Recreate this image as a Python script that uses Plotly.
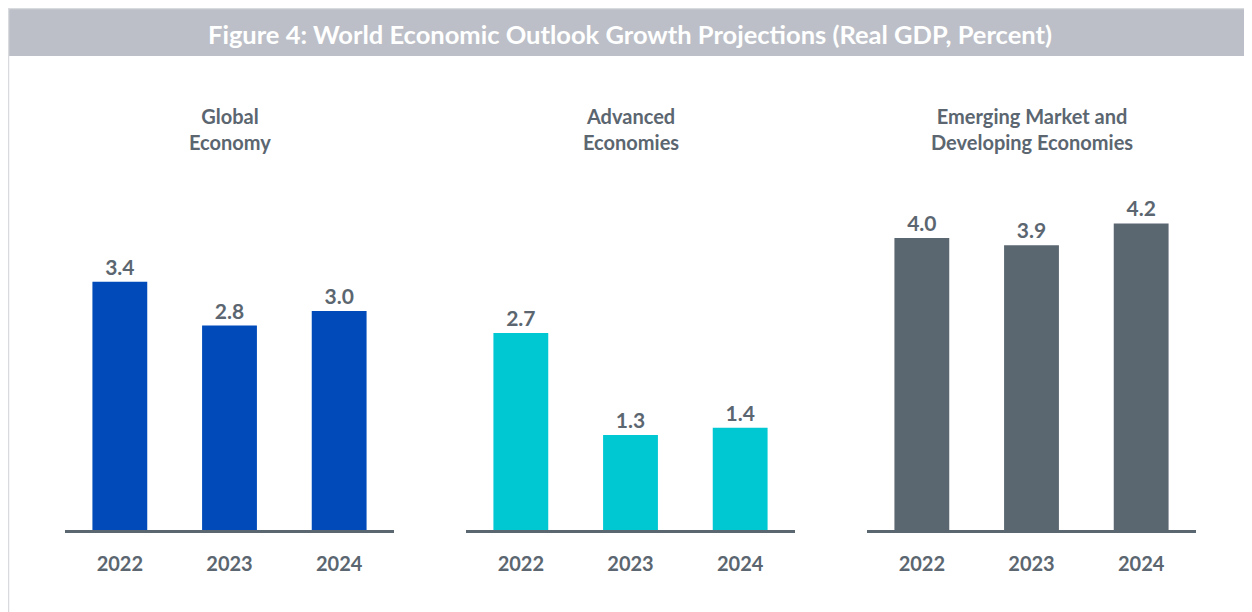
import plotly.graph_objects as go

# data
years = ["2022", "2023", "2024"]
global_economy = [3.4, 2.8, 3.0]
advanced = [2.7, 1.3, 1.4]
emerging = [4.0, 3.9, 4.2]
panel_titles = ["Global<br>Economy", "Advanced<br>Economies",
                "Emerging Market and<br>Developing Economies"]
title_text = "Figure 4: World Economic Outlook Growth Projections (Real GDP, Percent)"

W, H = 1252, 612
OFF = 8  # page body margin pushes the figure 8px right/down
FONT = "Lato"
GREY_TXT = "#5b6670"

series = [global_economy, advanced, emerging]
colors = ["#004bb9", "#00c8d3", "#5a6670"]


def px(v):
    return (v - OFF) / W


def py(v):
    return (H - (v - OFF)) / H


# pixel layout (screen coords) -> paper fractions
x_spans = [(65, 394), (466, 795), (867, 1196)]
y_base, y_top = 530, 170
px_per_unit = 73.0
y_max = (y_base - y_top) / px_per_unit

fig = go.Figure()

for i, (vals, col) in enumerate(zip(series, colors)):
    n = "" if i == 0 else str(i + 1)
    fig.add_trace(go.Bar(
        x=years, y=vals,
        marker=dict(color=col, line=dict(width=0)),
        width=0.5,
        text=[f"{v:.1f}" for v in vals],
        textposition="outside",
        cliponaxis=False,
        textfont=dict(family=FONT, size=21, color=GREY_TXT, weight="bold"),
        xaxis="x" + n, yaxis="y" + n,
        showlegend=False,
        hoverinfo="skip",
    ))
    x0, x1 = x_spans[i]
    fig.layout["xaxis" + n] = dict(
        domain=[px(x0), px(x1)],
        anchor="y" + n,
        showline=True, linecolor="#5a6670", linewidth=2.5,
        showgrid=False, zeroline=False,
        ticks="", ticklabelstandoff=14,
        tickfont=dict(family=FONT, size=20, color=GREY_TXT, weight="bold"),
        fixedrange=True,
    )
    fig.layout["yaxis" + n] = dict(
        domain=[py(y_base), py(y_top)],
        anchor="x" + n,
        range=[0, y_max],
        visible=False,
        fixedrange=True,
    )
    fig.add_annotation(
        text=panel_titles[i], xref="paper", yref="paper",
        x=px((x0 + x1) / 2), y=py(129),
        xanchor="center", yanchor="middle", showarrow=False,
        align="center",
        font=dict(family=FONT, size=20, color=GREY_TXT, weight="bold"),
    )

# header band and frame
fig.add_shape(type="rect", xref="paper", yref="paper",
              x0=0.5 / W, x1=1.02, y0=-0.2, y1=1 - 0.5 / H,
              line=dict(color="#d9dadd", width=1.5), fillcolor="rgba(0,0,0,0)")
fig.add_shape(type="rect", xref="paper", yref="paper",
              x0=1 / W, x1=1.0, y0=py(56), y1=1 - 1 / H,
              line=dict(width=0), fillcolor="#bcbfc7", layer="below")
fig.add_annotation(
    text=title_text, xref="paper", yref="paper",
    x=px(630), y=py(34), xanchor="center", yanchor="middle",
    showarrow=False,
    font=dict(family=FONT, size=25.5, color="white", weight="bold"),
)

fig.update_layout(
    width=W, height=H,
    margin=dict(l=0, r=0, t=0, b=0),
    paper_bgcolor="white", plot_bgcolor="white",
    bargap=0.5,
)

fig.write_html("out.html", config={"displayModeBar": False})
